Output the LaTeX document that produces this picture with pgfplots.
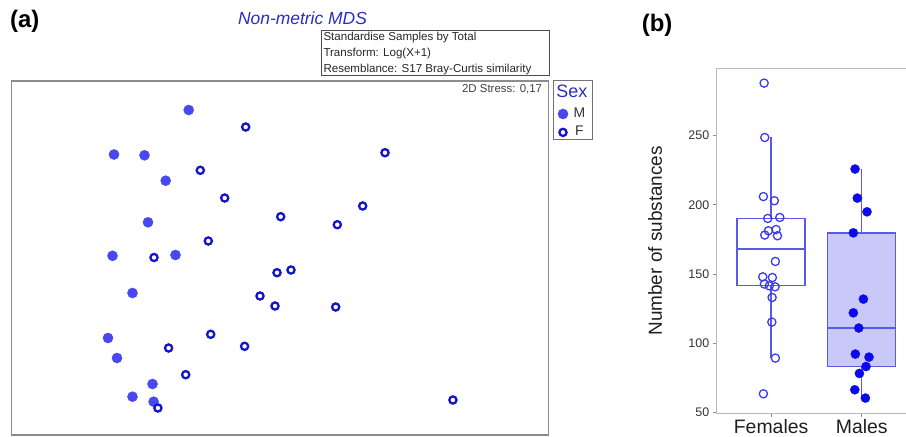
\documentclass[border=0pt]{standalone}
\usepackage{pgfplots}
\pgfplotsset{compat=1.18}
\usepackage{fontspec}
\setmainfont{Liberation Sans}
\definecolor{mfill}{HTML}{4848EE}
\definecolor{fring}{HTML}{1414CC}
\definecolor{ttlblue}{HTML}{2B2BC8}
\definecolor{bopen}{HTML}{3C3CEE}
\definecolor{bfill}{HTML}{0A0AEB}
\definecolor{boxedge}{HTML}{5A5AEA}
\definecolor{boxfill}{HTML}{C9C9F9}
\begin{document}
\begin{tikzpicture}
\useasboundingbox (0,0) rectangle (906bp,437bp);
% panel labels
\node[anchor=west,inner sep=0,font=\fontsize{24}{24}\selectfont\bfseries] at (10bp,415.5bp) {(a)};
\node[anchor=west,inner sep=0,font=\fontsize{24}{24}\selectfont\bfseries] at (641.7bp,412bp) {(b)};
% title and info box
\node[inner sep=0,font=\fontsize{17.5}{17.5}\selectfont\itshape,text=ttlblue] at (302.5bp,419bp) {Non-metric MDS};
\draw[black!70,line width=0.9bp] (321.7bp,362bp) rectangle (549.3bp,407bp);
\node[anchor=base west,inner sep=0,font=\fontsize{11.6}{11.6}\selectfont,text=black!85] at (323.3bp,396.3bp) {Standardise Samples by Total};
\node[anchor=base west,inner sep=0,font=\fontsize{11.6}{11.6}\selectfont,text=black!85] at (323.3bp,380.7bp) {Transform: Log(X+1)};
\node[anchor=base west,inner sep=0,font=\fontsize{11.6}{11.6}\selectfont,text=black!85] at (323.3bp,364.7bp) {Resemblance: S17 Bray-Curtis similarity};
% legend box
\draw[black!55,line width=1bp] (553.3bp,297bp) rectangle (592bp,356.5bp);
\node[anchor=west,inner sep=0,font=\fontsize{18}{18}\selectfont,text=ttlblue] at (556.2bp,346bp) {Sex};

\begin{axis}[
  at={(11.5bp,2bp)}, anchor=south west,
  width=537bp, height=354bp, scale only axis,
  xmin=11.5, xmax=548.5, ymin=81, ymax=435, y dir=reverse,
  ticks=none, clip=false,
  axis line style={black!45,line width=1.3bp},
  legend style={at={(axis description cs:1.0175,0.9328)}, anchor=north west,
    draw=none, fill=none, inner sep=0pt, outer sep=0pt, column sep=4bp,
    font=\fontsize{14}{14}\selectfont,
    nodes={inner sep=1.5bp, text height=11bp, text depth=4.4bp, text=black!80}},
  legend image code/.code={\draw[mark repeat=2,mark phase=2] plot coordinates {(0bp,0bp)(6bp,0bp)(12bp,0bp)};},
]
\node[anchor=east,inner sep=0,font=\fontsize{11.5}{11.5}\selectfont,text=black!75] at (axis cs:542.3,89.3) {2D Stress: 0,17};
\addplot[only marks, mark=*, mark size=5.1bp, mark options={draw=mfill,fill=mfill,line width=0.3bp}] coordinates {
(188.7,110) (114,154.5) (144.5,155.3) (165.7,180.7) (148,222.3) (112.5,255.8) (175.5,255)
(132.5,293) (108,338) (117,358) (152.5,384) (132.5,396.7) (153.6,401.7)};
\addlegendentry{M}
\addplot[only marks, mark=o, mark size=3.6bp, mark options={draw=fring,fill=white,line width=2.3bp}] coordinates {
(245.7,127) (385,152.7) (200.3,170.3) (224.7,198) (280.7,216.7) (337.3,224.7) (362.7,206)
(208.3,241) (154,257.5) (277,272.7) (291,270) (260,296) (275,306) (335.7,307) (210.7,334.3)
(168.6,348) (244.6,346.3) (185.7,374.7) (157.9,408) (452.9,400)};
\addlegendentry{F}
\end{axis}

\begin{axis}[
  at={(716.7bp,23.7bp)}, anchor=south west,
  width=192.2bp, height=345bp, scale only axis,
  xmin=0.4, xmax=2.52, ymin=49.4, ymax=298.7,
  axis line style={black!27,line width=1bp},
  xtick={1,2}, xticklabels={Females,Males},
  ytick={50,100,150,200,250},
  tick align=outside, major tick length=4bp,
  tick style={black!45,line width=0.8bp},
  xtick pos=bottom, ytick pos=left,
  /pgf/number format/assume math mode=true,
  yticklabel style={font=\fontsize{12.5}{12.5}\selectfont,text=black!80},
  xticklabel style={font=\fontsize{19.5}{19.5}\selectfont,text=black!88,inner sep=0pt,yshift=-1.5bp},
  ylabel={Number of substances},
  ylabel style={at={(axis description cs:-0.32,0.5)},anchor=center,font=\fontsize{19}{19}\selectfont,text=black!88},
]
% Females box
\addplot[draw=boxedge, line width=1.3bp] coordinates {(1,190.2) (1,249)};
\addplot[draw=boxedge, line width=1.3bp] coordinates {(1,141.8) (1,89.3)};
\addplot[draw=boxedge, fill=white, line width=1.3bp] coordinates {(0.625,141.8) (1.375,141.8) (1.375,190.2) (0.625,190.2)} -- cycle;
\addplot[draw=boxedge, line width=2bp] coordinates {(0.625,168.3) (1.375,168.3)};
% Males box
\addplot[draw=boxedge, line width=1.3bp] coordinates {(2,179.6) (2,226)};
\addplot[draw=boxedge, line width=1.3bp] coordinates {(2,83.2) (2,60.4)};
\addplot[draw=boxedge, fill=boxfill, line width=1.3bp] coordinates {(1.625,83.2) (2.375,83.2) (2.375,179.6) (1.625,179.6)} -- cycle;
\addplot[draw=boxedge, line width=2bp] coordinates {(1.625,111) (2.375,111)};
% points
\addplot[only marks, mark=o, mark size=4.1bp, mark options={draw=bopen,fill=none,line width=1.3bp}] coordinates {
(0.923,288.0) (0.930,248.7) (0.915,206.0) (1.036,203.0) (0.963,190.2) (1.096,190.9) (0.970,181.3)
(1.055,182.2) (0.930,178.2) (1.070,177.7) (1.047,159.1) (0.908,148.0) (1.014,147.5) (0.926,142.8)
(0.981,141.5) (1.044,140.8) (1.011,133.1) (1.008,115.3) (1.047,89.3) (0.915,63.5)};
\addplot[only marks, mark=*, mark size=4.6bp, mark options={draw=bfill,fill=bfill,line width=0.3bp}] coordinates {
(1.926,225.9) (1.951,204.9) (2.058,195.0) (1.907,179.8) (2.018,131.9) (1.907,122.0) (1.967,111.0)
(1.929,92.2) (2.080,90.0) (2.047,83.2) (1.974,78.2) (1.923,66.4) (2.040,60.4)};
\end{axis}
\end{tikzpicture}
\end{document}
